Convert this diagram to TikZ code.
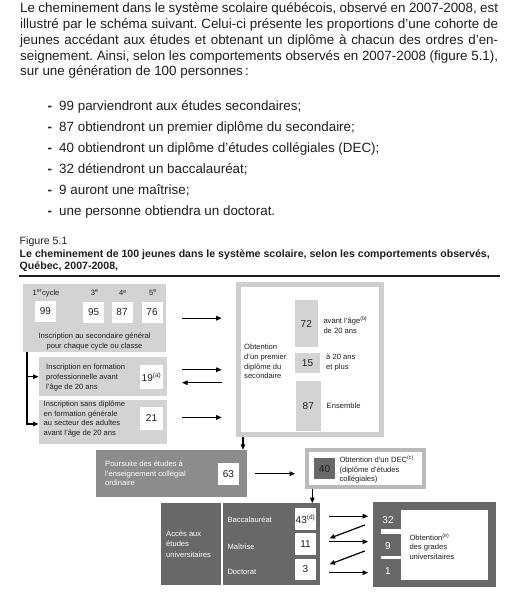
\documentclass[tikz,border=0pt]{standalone}
\usepackage{fontspec}
\setmainfont{Liberation Sans}
\usetikzlibrary{positioning, arrows.meta, calc}
\definecolor{boxlg}{RGB}{211,211,211}
\definecolor{framelg}{RGB}{206,206,206}
\definecolor{boxmg}{RGB}{140,140,140}
\definecolor{boxdg}{RGB}{104,104,104}
\definecolor{declg}{RGB}{186,186,186}
\definecolor{txtdk}{RGB}{30,30,30}
\frenchspacing

\begin{document}
\begin{tikzpicture}[x=1pt, y=-1pt,
    every node/.style={inner sep=0pt, text=txtdk},
    para/.style={anchor=base west, font=\fontsize{13.4}{15}\selectfont},
    capt/.style={anchor=base west, font=\fontsize{10.6}{12}\selectfont},
    dtxt/.style={anchor=west, align=left, font=\fontsize{7.6}{9.8}\selectfont},
    lbox/.style={fill=boxlg, anchor=north west},
    wnum/.style={fill=white, font=\fontsize{10}{11}\selectfont},
    arr/.style={-{Triangle[length=5.5pt, width=4.5pt]}, line width=1.2pt, black}]
        \useasboundingbox (0,0) rectangle (523,593);

        % Introductory paragraph
        \node[para] (l1) at (20,12.7)
          {\makebox[478pt][s]{Le cheminement dans le système scolaire québécois, observé en 2007-2008, est}};
        \node[para] (l2) at (20,28.5)
          {\makebox[478pt][s]{illustré par le schéma suivant. Celui-ci présente les proportions d'une cohorte de}};
        \node[para] (l3) at (20,44.3)
          {\makebox[478pt][s]{jeunes accédant aux études et obtenant un diplôme à chacun des ordres d'en-}};
        \node[para] (l4) at (20,60.1)
          {\makebox[478pt][s]{seignement. Ainsi, selon les comportements observés en 2007-2008 (figure 5.1),}};
        \node[para] (l5) at (20,75.9) {sur une génération de 100 personnes\,:};

        % List of outcomes
        \foreach \txt [count=\k from 0] in {99 parviendront aux études secondaires;,
            87 obtiendront un premier diplôme du secondaire;,
            40 obtiendront un diplôme d'études collégiales (DEC);,
            32 détiendront un baccalauréat;, 9 auront une maîtrise;,
            une personne obtiendra un doctorat.}{
          \node[para] (bul\k) at (47.5,{110.5+21*\k}) {\textbf{-}};
          \node[para] (itm\k) at (59,{110.5+21*\k}) {\txt};
        }

        % Figure caption
        \node[capt] (fig) at (19.5,244) {Figure 5.1};
        \node[capt, font=\fontsize{10.6}{12}\selectfont\bfseries] (cap1) at (19.5,257.3)
          {Le cheminement de 100 jeunes dans le système scolaire, selon les comportements observés,};
        \node[capt, font=\fontsize{10.6}{12}\selectfont\bfseries] (cap2) at (19.5,269.3)
          {Québec, 2007-2008,};
        \draw[line width=2.5pt, txtdk] (19,276) -- (500,276);

        % Secondary school, general sector
        \node[lbox, minimum width=143pt, minimum height=68pt] (sec) at (23,284) {};
        \node[wnum, minimum size=21pt] (n1) at (45.5,311.5) {99};
        \node[dtxt] (c1) at (32.5,293) {1\textsuperscript{er}cycle};
        \foreach \lab/\num/\cx in {3/95/93.7, 4/87/122, 5/76/152}{
          \node[wnum, minimum size=21pt] (n\lab) at (\cx,312.5) {\num};
          \node[dtxt, anchor=center] (c\lab) at ({\cx+1},293) {\lab\textsuperscript{e}};
        }
        \node[dtxt, anchor=center, align=center] (secl) at (94.5,341.5)
          {Inscription au secondaire général\\pour chaque cycle ou classe};

        % Vocational and adult sectors
        \node[lbox, minimum width=128pt, minimum height=39pt] (prof) at (38.5,357) {};
        \node[dtxt] (profl) at (46,377.5)
          {Inscription en formation\\professionnelle avant\\l'âge de 20 ans};
        \node[wnum, minimum width=22.5pt, minimum height=24pt] (n19) at (151.5,377)
          {19\textsuperscript{\fontsize{6.5}{7}\selectfont(a)}};
        \node[lbox, minimum width=128pt, minimum height=43.5pt] (adult) at (38.5,400) {};
        \node[dtxt] (adultl) at (43.5,419)
          {Inscription sans diplôme\\en formation générale\\au secteur des adultes\\avant l'âge de 20 ans};
        \node[wnum, minimum width=22.5pt, minimum height=23pt] (n21) at (151.5,418.5) {21};

        % branch from general sector
        \coordinate (brk) at ([xshift=4pt]sec.south west);
        \draw[arr, line width=1.5pt] (brk) |- ([yshift=-2pt]adult.west);
        \draw[arr] (brk |- prof.west) -- (prof.west);

        % First secondary diploma
        \node[draw=framelg, line width=5pt, fill=white, minimum width=143pt,
              minimum height=150pt] (dip) at (310,359.2) {};
        \node[fill=boxlg, minimum width=22.7pt, minimum height=47.3pt, font=\fontsize{10}{11}\selectfont]
          (b72) at (306.3,323.6) {72};
        \node[fill=boxlg, minimum width=25pt, minimum height=20pt, font=\fontsize{10}{11}\selectfont]
          (b15) at (307.5,362.7) {15};
        \node[fill=boxlg, minimum width=24.7pt, minimum height=49.7pt, font=\fontsize{10}{11}\selectfont]
          (b87) at (308.3,405.8) {87};
        \node[dtxt] (t72) at (323.3,325) {avant l'âge\textsuperscript{(b)}\\de 20 ans};
        \node[dtxt] (t15) at (326,362.5) {à 20 ans\\et plus};
        \node[dtxt] (t87) at (326.5,406) {Ensemble};
        \node[dtxt] (dipl) at (244,361.5) {Obtention\\d'un premier\\diplôme du\\secondaire};

        % flows to and from the diploma
        \draw[arr, shorten <=15.7pt, shorten >=14.3pt] (sec.east) -- (sec.east -| dip.west);
        \draw[arr, shorten <=15.2pt, shorten >=14.3pt]
          ([yshift=7pt]prof.east) -- ([yshift=7pt]prof.east -| dip.west);
        \draw[arr, shorten <=14.3pt, shorten >=15.2pt]
          ([yshift=-6pt]prof.east -| dip.west) -- ([yshift=-6pt]prof.east);
        \draw[arr, shorten <=15.2pt, shorten >=14.3pt]
          ([yshift=4.5pt]adult.east) -- ([yshift=4.5pt]adult.east -| dip.west);

        % College
        \node[fill=boxmg, minimum width=150.7pt, minimum height=47.3pt] (pours) at (171.35,473.65) {};
        \node[dtxt, text=white] (poursl) at (105,473.3)
          {Poursuite des études à\\l'enseignement collégial\\ordinaire};
        \node[wnum, minimum width=21.3pt, minimum height=22.3pt] (n63) at (228.35,473.85) {63};
        \draw[arr] ([xshift=7pt]dip.south west) -- ([xshift=7pt]dip.south west |- pours.north);

        \node[draw=declg, line width=4pt, fill=white, minimum width=116.7pt,
              minimum height=36.7pt] (dec) at (365.35,468.65) {};
        \node[fill=boxdg, minimum size=21pt, font=\fontsize{10}{11}\selectfont] (n40) at (324.5,468.8) {40};
        \node[dtxt] (decl) at (339.3,469.5)
          {Obtention d'un DEC\textsuperscript{(c)}\\(diplôme d'études\\collégiales)};
        \draw[arr, shorten <=8.3pt, shorten >=10pt] (pours.east) -- (pours.east -| dec.west);

        % University
        \node[fill=boxdg, minimum width=159pt, minimum height=81.7pt] (univ) at (240.5,544.15) {};
        \draw[white, line width=1.8pt]
          ($(univ.north west)+(61.3,0)$) -- ($(univ.south west)+(61.3,0)$);
        \node[dtxt, text=white, font=\fontsize{7.6}{10.5}\selectfont] (univl) at (166,544)
          {Accès aux\\études\\universitaires};
        \foreach \lab/\nm/\yy in {Baccalauréat/bac/519.5, Maîtrise/mai/546.5, Doctorat/doc/572}{
          \node[dtxt, text=white] (l\nm) at (227.3,\yy) {\lab};
        }
        \node[wnum, minimum width=21pt, minimum height=21.7pt] (bac) at (305.5,519.2)
          {43\textsuperscript{\fontsize{6.5}{7}\selectfont(d)}};
        \node[wnum, minimum width=21pt, minimum height=21.7pt] (mai) at (305.5,544.2) {11};
        \node[wnum, minimum width=21pt, minimum height=21pt] (doc) at (305.5,569.5) {3};
        \draw[arr] ([xshift=7.3pt]dec.south west) -- ([xshift=7.3pt]dec.south west |- univ.north);

        % University degrees
        \node[fill=boxdg, minimum width=123.3pt, minimum height=84.4pt] (grad) at (434.35,544.5) {};
        \fill[white] (400.7,510) rectangle (488.3,580);
        \fill[white] (380.7,529.3) rectangle (400.7,534.3);
        \fill[white] (380.7,555.7) rectangle (400.7,559.3);
        \foreach \num/\nm/\yy in {32/g32/520, 9/g9/546, 1/g1/571}{
          \node[text=white, font=\fontsize{10}{11}\selectfont] (\nm) at (388,\yy) {\num};
        }
        \node[dtxt] (gradl) at (409.3,546.5)
          {Obtention\textsuperscript{(e)}\\des grades\\universitaires};

        % exchanges between access and degrees
        \draw[arr, shorten <=8.3pt, shorten >=4.4pt]
          ([yshift=3pt]bac.east -| univ.east) -- ([yshift=3pt]bac.east -| grad.west);
        \draw[arr] ($(bac.east -| grad.west)+(-7.7,5.8)$) -- ($(mai.east -| univ.east)+(9.3,-5.9)$);
        \draw[arr, shorten <=8.3pt, shorten >=4.4pt]
          ([yshift=2.5pt]mai.east -| univ.east) -- ([yshift=2.5pt]mai.east -| grad.west);
        \draw[arr] ($(mai.east -| grad.west)+(-7.7,6.8)$) -- ($(doc.east -| univ.east)+(9.3,-5.2)$);
        \draw[arr, shorten <=8.3pt, shorten >=4.4pt]
          ([yshift=-3.2pt]doc.east -| univ.east) -- ([yshift=-3.2pt]doc.east -| grad.west);
      \end{tikzpicture}
\end{document}
